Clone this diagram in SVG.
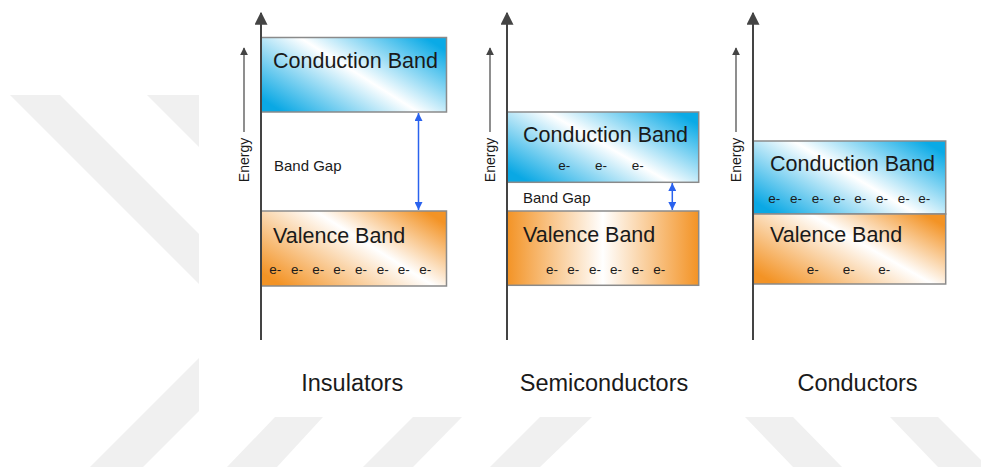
<svg xmlns="http://www.w3.org/2000/svg" width="981" height="467" viewBox="0 0 981 467">
  <defs>
    <linearGradient id="gBlue" x1="0" y1="0.82" x2="1" y2="0.18">
      <stop offset="0" stop-color="#0aa8e4"/>
      <stop offset="0.52" stop-color="#ffffff"/>
      <stop offset="1" stop-color="#0aaae6"/>
    </linearGradient>
    <linearGradient id="gOrange" x1="0" y1="0.82" x2="1" y2="0.18">
      <stop offset="0" stop-color="#f39325"/>
      <stop offset="0.58" stop-color="#ffffff"/>
      <stop offset="1" stop-color="#f39325"/>
    </linearGradient>
    <linearGradient id="gOrangeH" x1="0" y1="0" x2="1" y2="0">
      <stop offset="0" stop-color="#f39325"/>
      <stop offset="0.5" stop-color="#ffffff"/>
      <stop offset="1" stop-color="#f39325"/>
    </linearGradient>
    <marker id="axHead" viewBox="0 0 10 10" refX="9" refY="5" markerWidth="13" markerHeight="13" orient="auto" markerUnits="userSpaceOnUse">
      <path d="M0,0 L10,5 L0,10 z" fill="#444444"/>
    </marker>
    <marker id="enHead" viewBox="0 0 10 10" refX="9" refY="5" markerWidth="8" markerHeight="8" orient="auto" markerUnits="userSpaceOnUse">
      <path d="M0,0 L10,5 L0,10 z" fill="#444444"/>
    </marker>
    <marker id="gapHead" viewBox="0 0 10 10" refX="10" refY="5" markerWidth="8" markerHeight="8" orient="auto-start-reverse" markerUnits="userSpaceOnUse">
      <path d="M0,0 L10,5 L0,10 z" fill="#2a62ee"/>
    </marker>
  </defs>
  <style>
    .wm { fill: #f0f0f0; }
    .band { stroke: #8a8a8a; stroke-width: 1.5; }
    .lbl { font-family: "Liberation Sans", Arial, sans-serif; fill: #1a1a1a; }
    .big { font-size: 21.5px; }
    .gap { font-size: 15px; }
    .el { font-size: 13.5px; }
    .title { font-size: 23.5px; text-anchor: middle; }
    .energy { font-size: 14px; text-anchor: middle; }
    .axis { stroke: #444444; stroke-width: 2; fill: none; }
    .earrow { stroke: #444444; stroke-width: 1.2; fill: none; }
    .gaparrow { stroke: #2a62ee; stroke-width: 1.5; fill: none; }
  </style>

  <rect x="0" y="0" width="981" height="467" fill="#ffffff"/>

  <g id="watermark">
    <polygon class="wm" points="10,95 60,95 287.5,322.5 143,467 90,467 236,321"/>
    <polygon class="wm" points="147,95 260,95 400,235 287,235"/>
    <polygon class="wm" points="275,417 323,417 277,467 227,467"/>
    <polygon class="wm" points="413,417 462,417 413,467 363,467"/>
    <polygon class="wm" points="540,417 592,417 540,467 490,467"/>
    <polygon class="wm" points="745,417 793,417 842,467 793,467"/>
    <polygon class="wm" points="890,417 938,417 988,467 938,467"/>
    <rect x="199" y="0" width="782" height="417" fill="#ffffff"/>
  </g>

  <g id="insulators">
    <g id="ins-cb">
      <rect class="band" x="261" y="37.5" width="185.5" height="74.5" fill="url(#gBlue)"/>
      <text class="lbl big" x="273" y="68">Conduction Band</text>
    </g>
    <g id="ins-gap">
      <text class="lbl gap" x="274" y="170.5">Band Gap</text>
    </g>
    <g id="ins-vb">
      <rect class="band" x="261" y="211" width="185.5" height="75" fill="url(#gOrange)"/>
      <text class="lbl big" x="273" y="243">Valence Band</text>
      <text class="lbl el" y="274"><tspan x="269.3">e-</tspan><tspan x="291">e-</tspan><tspan x="312.3">e-</tspan><tspan x="333.3">e-</tspan><tspan x="355">e-</tspan><tspan x="376.7">e-</tspan><tspan x="397.7">e-</tspan><tspan x="419.3">e-</tspan></text>
    </g>
    <g id="ins-energy">
      <text class="lbl energy" transform="translate(249,160) rotate(-90)">Energy</text>
    </g>
    <g id="ins-title">
      <text class="lbl title" x="352.2" y="391">Insulators</text>
    </g>
  </g>

  <g id="semiconductors">
    <g id="semi-cb">
      <rect class="band" x="507" y="112" width="191.7" height="70.3" fill="url(#gBlue)"/>
      <text class="lbl big" x="523" y="141.7">Conduction Band</text>
      <text class="lbl el" y="170"><tspan x="558.3">e-</tspan><tspan x="595">e-</tspan><tspan x="631.7">e-</tspan></text>
    </g>
    <g id="semi-gap">
      <text class="lbl gap" x="523" y="203.3">Band Gap</text>
    </g>
    <g id="semi-vb">
      <rect class="band" x="507" y="211" width="191.7" height="74.3" fill="url(#gOrangeH)"/>
      <text class="lbl big" x="523" y="241.7">Valence Band</text>
      <text class="lbl el" y="274"><tspan x="546">e-</tspan><tspan x="567.3">e-</tspan><tspan x="589">e-</tspan><tspan x="610">e-</tspan><tspan x="631.7">e-</tspan><tspan x="653.3">e-</tspan></text>
    </g>
    <g id="semi-energy">
      <text class="lbl energy" transform="translate(495,160) rotate(-90)">Energy</text>
    </g>
    <g id="semi-title">
      <text class="lbl title" x="604" y="391">Semiconductors</text>
    </g>
  </g>

  <g id="conductors">
    <g id="cond-cb">
      <rect class="band" x="753.3" y="141" width="192.4" height="73" fill="url(#gBlue)"/>
      <text class="lbl big" x="770" y="171">Conduction Band</text>
      <text class="lbl el" y="202.7"><tspan x="768.3">e-</tspan><tspan x="790">e-</tspan><tspan x="811.7">e-</tspan><tspan x="833.3">e-</tspan><tspan x="854.3">e-</tspan><tspan x="876">e-</tspan><tspan x="897.7">e-</tspan><tspan x="918.3">e-</tspan></text>
    </g>
    <g id="cond-vb">
      <rect class="band" x="753.3" y="214" width="192.4" height="70" fill="url(#gOrange)"/>
      <text class="lbl big" x="770" y="241.7">Valence Band</text>
      <text class="lbl el" y="274.3"><tspan x="806.7">e-</tspan><tspan x="842.7">e-</tspan><tspan x="878.3">e-</tspan></text>
    </g>
    <g id="cond-energy">
      <text class="lbl energy" transform="translate(741,160) rotate(-90)">Energy</text>
    </g>
    <g id="cond-title">
      <text class="lbl title" x="857.5" y="391">Conductors</text>
    </g>
  </g>

  <g id="connectors">
    <line class="axis" x1="261" y1="340" x2="261" y2="13" marker-end="url(#axHead)"/>
    <line class="axis" x1="507" y1="340" x2="507" y2="13" marker-end="url(#axHead)"/>
    <line class="axis" x1="753" y1="340" x2="753" y2="13" marker-end="url(#axHead)"/>
    <line class="earrow" x1="244" y1="132" x2="244" y2="48" marker-end="url(#enHead)"/>
    <line class="earrow" x1="490" y1="132" x2="490" y2="48" marker-end="url(#enHead)"/>
    <line class="earrow" x1="736" y1="132" x2="736" y2="48" marker-end="url(#enHead)"/>
    <line class="gaparrow" x1="418.5" y1="113" x2="418.5" y2="210" marker-start="url(#gapHead)" marker-end="url(#gapHead)"/>
    <line class="gaparrow" x1="672.3" y1="183" x2="672.3" y2="210" marker-start="url(#gapHead)" marker-end="url(#gapHead)"/>
  </g>
</svg>
